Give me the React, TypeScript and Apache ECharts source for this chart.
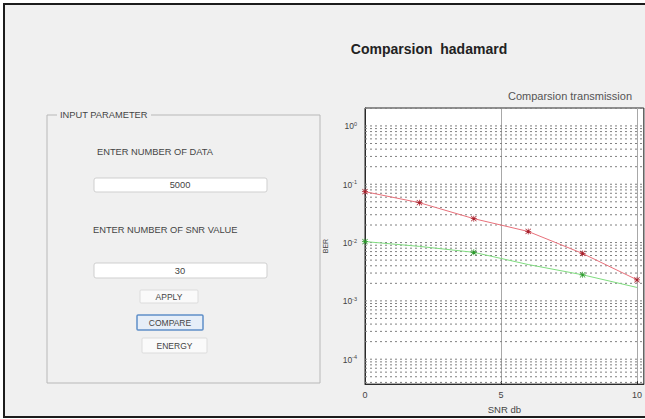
import React, { useEffect, useRef } from "react";
import * as echarts from "echarts";

// ---- data ----
const snrRed = [0, 2, 4, 6, 8, 10];
const berRed = [0.0745, 0.0483, 0.0257, 0.0155, 0.0065, 0.0023];
const snrGreen = [0, 2, 4, 6, 8, 10];
const berGreen = [0.0104, 0.0086, 0.0068, 0.0042, 0.0028, 0.0017];
const greenMarked = [true, false, true, false, true, false];
const decades = [-5, -4, -3, -2, -1, 0];
const minorFactors = [1, 2, 3, 4, 5, 6, 7, 8, 9];
const yMin = 3.74e-5;
const yMax = 2.03;
const xMin = 0;
const xMax = 10.25;

const titleText = "Comparsion  hadamard";
const axesTitle = "Comparsion transmission";
const xName = "SNR db";
const yName = "BER";
const panelTitle = "INPUT PARAMETER";
const label1 = "ENTER NUMBER OF DATA";
const value1 = "5000";
const label2 = "ENTER NUMBER OF SNR VALUE";
const value2 = "30";
const buttons = ["APPLY", "COMPARE", "ENERGY"];

const FONT = "Liberation Sans, Arial, sans-serif";
const ASTERISK =
  "path://M0,4.4h10v1.2h-10z M4.4,0h1.2v10h-1.2z M1,0.2L9.8,9L9,9.8L0.2,1z M9,0.2L9.8,1L1,9.8L0.2,9z";

function txt(text: string, x: number, y: number, extra: any = {}) {
  return {
    type: "text",
    x,
    y,
    style: {
      text,
      fontSize: 9.3,
      fontFamily: FONT,
      fill: "#444",
      align: "center",
      textAlign: "center",
      verticalAlign: "middle",
      textVerticalAlign: "middle",
      ...extra,
    },
  };
}

export default function App() {
  const ref = useRef<HTMLDivElement>(null);
  useEffect(() => {
    if (!ref.current) return;
    const chart = echarts.init(ref.current, null, { renderer: "svg" });

    const gridValues: number[] = [];
    decades.forEach((d) =>
      minorFactors.forEach((f) => {
        const v = f * Math.pow(10, d);
        if (v > yMin && v < yMax) gridValues.push(v);
      })
    );

    const btnY = [290, 315, 338];
    const btnX = [140, 137, 142];
    const btnW = [58, 66, 65];
    const btnH = [13, 15, 15];

    const graphic: any[] = [
      {
        type: "rect",
        z: -100,
        shape: { x: 4, y: 4, width: 700, height: 413 },
        style: { fill: "#f0f0f0", stroke: "#1c1c1c", lineWidth: 2 },
      },
      txt(titleText, 429, 49, { fontSize: 14, fontWeight: "bold", fill: "#222" }),
      txt(axesTitle, 570, 96, { fontSize: 11, fill: "#555" }),
      // panel
      {
        type: "rect",
        shape: { x: 47, y: 115, width: 273, height: 268 },
        style: { fill: "none", stroke: "#b8b8b8", lineWidth: 1 },
      },
      {
        type: "rect",
        shape: { x: 57, y: 110, width: 94, height: 10 },
        style: { fill: "#f0f0f0" },
      },
      txt(panelTitle, 60, 115, { align: "left", textAlign: "left" }),
      txt(label1, 97, 152, { align: "left", textAlign: "left" }),
      {
        type: "rect",
        shape: { x: 94, y: 178, width: 173, height: 14, r: 2 },
        style: { fill: "#fff", stroke: "#cfcfcf", lineWidth: 1 },
      },
      txt(value1, 180, 185),
      txt(label2, 93, 230, { align: "left", textAlign: "left" }),
      {
        type: "rect",
        shape: { x: 94, y: 263, width: 173, height: 15, r: 2 },
        style: { fill: "#fff", stroke: "#cfcfcf", lineWidth: 1 },
      },
      txt(value2, 180, 271),
    ];
    buttons.forEach((b, i) => {
      graphic.push({
        type: "rect",
        shape: { x: btnX[i], y: btnY[i], width: btnW[i], height: btnH[i], r: 1 },
        style: {
          fill: i === 1 ? "#e6eef8" : "#fafafa",
          stroke: i === 1 ? "#5f8fc8" : "#dcdcdc",
          lineWidth: i === 1 ? 1.5 : 1,
        },
      });
      graphic.push(txt(b, btnX[i] + btnW[i] / 2, btnY[i] + btnH[i] / 2, { fontSize: 8.5 }));
    });

    const option: any = {
      animation: false,
      backgroundColor: "#ffffff",
      graphic,
      grid: {
        left: 365,
        top: 108,
        width: 282,
        height: 277,
        show: true,
        backgroundColor: "#ffffff",
        borderColor: "#2a2a2a",
        borderWidth: 1,
      },
      xAxis: {
        type: "value",
        min: xMin,
        max: xMax,
        interval: 5,
        name: xName,
        nameLocation: "middle",
        nameGap: 18,
        nameTextStyle: { fontSize: 9.5, color: "#444", fontFamily: FONT },
        axisLine: { show: true, lineStyle: { color: "#2a2a2a" } },
        axisTick: { show: true, inside: true, length: 3, lineStyle: { color: "#2a2a2a" } },
        axisLabel: {
          fontSize: 9,
          color: "#444",
          fontFamily: FONT,
          margin: 6,
          showMaxLabel: false,
        },
        splitLine: { show: true, lineStyle: { color: "#a8a8a8", width: 1 } },
      },
      yAxis: {
        type: "log",
        logBase: 10,
        min: yMin,
        max: yMax,
        name: yName,
        nameLocation: "middle",
        nameGap: 36,
        nameRotate: 90,
        nameTextStyle: { fontSize: 7, color: "#444", fontFamily: FONT },
        axisLine: { show: true, lineStyle: { color: "#2a2a2a" } },
        axisTick: { show: false },
        splitLine: { show: false },
        axisLabel: {
          showMinLabel: false,
          showMaxLabel: false,
          margin: 8,
          formatter: (v: number) => {
            const l = Math.log10(v);
            const e = Math.round(l);
            if (Math.abs(l - e) > 1e-6) return "";
            return "{b|10}{e|" + e + "}";
          },
          rich: {
            b: { fontSize: 8.5, color: "#444", fontFamily: FONT, verticalAlign: "bottom" },
            e: {
              fontSize: 5.5,
              color: "#444",
              fontFamily: FONT,
              verticalAlign: "top",
              padding: [0, 0, 4, 0],
            },
          },
        },
      },
      series: [
        {
          type: "custom",
          silent: true,
          z: 1,
          data: gridValues,
          encode: { y: 0 },
          renderItem: (params: any, api: any) => {
            const v = api.value(0);
            const p1 = api.coord([xMin, v]);
            const p2 = api.coord([xMax, v]);
            return {
              type: "line",
              shape: { x1: p1[0], y1: p1[1], x2: p2[0], y2: p2[1] },
              style: { stroke: "#808080", lineWidth: 1, lineDash: [2, 3] },
            };
          },
        },
        {
          type: "line",
          data: snrRed.map((x, i) => [x, berRed[i]]),
          symbol: ASTERISK,
          symbolSize: 6,
          lineStyle: { color: "#e8707a", width: 1 },
          itemStyle: { color: "#a8202c" },
          z: 5,
        },
        {
          type: "line",
          data: snrGreen.map((x, i) => ({
            value: [x, berGreen[i]],
            symbol: greenMarked[i] ? ASTERISK : "none",
          })),
          symbol: ASTERISK,
          symbolSize: 6,
          lineStyle: { color: "#7fdc7f", width: 1 },
          itemStyle: { color: "#2c9a2c" },
          z: 5,
        },
      ],
    };
    chart.setOption(option);
    return () => chart.dispose();
  }, []);
  return (
    <div
      ref={ref}
      style={{ position: "fixed", left: 0, top: 0, width: 645, height: 419 }}
    />
  );
}
